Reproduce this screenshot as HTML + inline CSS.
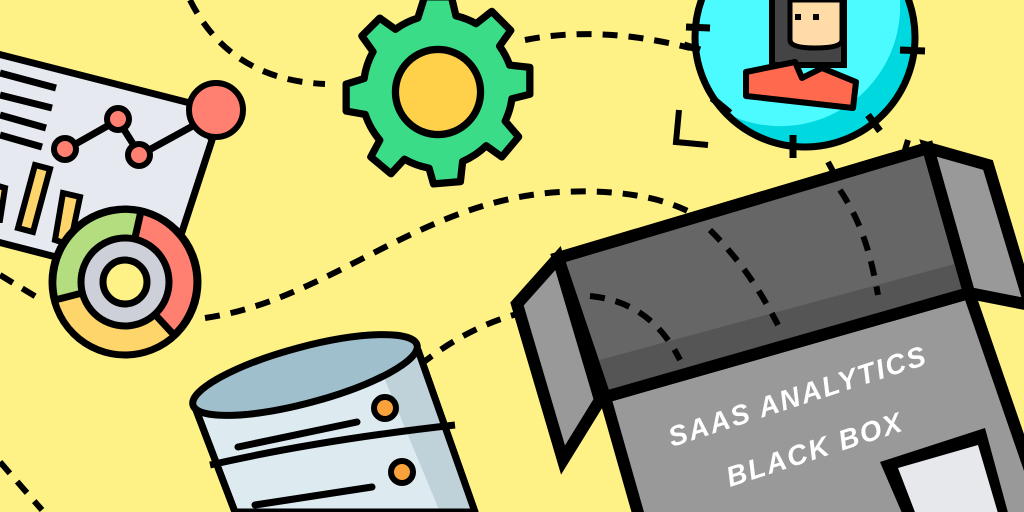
<!DOCTYPE html>
<html><head><meta charset="utf-8"><style>
html,body{margin:0;padding:0;width:1024px;height:512px;overflow:hidden;background:#FEF286}
svg{display:block}
</style></head><body>
<svg width="1024" height="512" viewBox="0 0 1024 512" xmlns="http://www.w3.org/2000/svg">
<rect width="1024" height="512" fill="#FEF286"/>
<g fill="none" stroke="#000" stroke-width="6" stroke-dasharray="15 11">
 <path d="M190,0 Q230,80 325,84"/>
 <path d="M525,40 Q600,25 690,48"/>
 <path d="M0,275 L38,298"/>
 <path d="M205,318 C330,300 420,200 560,192 C640,188 690,205 715,230 C740,260 760,290 780,330"/>
 <path d="M420,365 Q470,325 525,312 C600,295 655,320 680,360"/>
 <path d="M0,462 L42,510"/>
 <path d="M828,162 C860,220 870,250 878,295"/>
 <path d="M908,140 L905,150"/>
</g>
<path d="M679,110 L676,142 L708,145" fill="none" stroke="#000" stroke-width="6"/>

<g stroke="#000" stroke-width="7" stroke-linejoin="round">
 <path d="M-10,52 L190,103 L212,140 L182,232 L140,290 L60,258 L-10,240 Z" fill="#E6E9EF"/>
</g>
<g stroke="#000" stroke-width="7">
 <line x1="0" y1="73" x2="56" y2="88"/><line x1="0" y1="95" x2="52" y2="108"/>
 <line x1="0" y1="115" x2="46" y2="128"/><line x1="0" y1="135" x2="42" y2="147"/>
 <path d="M65,150 L118,120 L140,155 L200,122" fill="none"/>
</g>
<g fill="#FF8070" stroke="#000" stroke-width="6">
 <circle cx="65" cy="149" r="11"/><circle cx="118" cy="119" r="11"/><circle cx="139" cy="155" r="11"/>
 <circle cx="216" cy="110" r="27"/>
</g>
<g fill="#FDD56A" stroke="#000" stroke-width="6">
 <polygon points="35,165 50,169 33,232 18,228"/>
 <polygon points="63,193 80,197 70,245 55,240"/>
 <polygon points="-5,185 5,188 0,220 -5,220"/>
</g>
<g stroke="#000" stroke-width="7">
 <circle cx="125" cy="282" r="73" fill="#FDD56A"/>
 <path d="M125,282 L141,211 A73,73 0 0 1 174,335 Z" fill="#FF8070"/>
 <path d="M125,282 L141,211 A73,73 0 0 0 55,300 Z" fill="#B3DD7E"/>
 <circle cx="125" cy="282" r="44" fill="#CDD0D8"/>
 <circle cx="125" cy="282" r="22" fill="#FEF286"/>
</g>

<g transform="translate(438,92) scale(1.12)" stroke="#000" stroke-width="6.5" stroke-linejoin="round">
 <path fill="#3BDC88" d="
 M-12,-85 L12,-85 L16,-68 A70,70 0 0 1 34,-61 L48,-72 L65,-55 L55,-41 A70,70 0 0 1 64,-24 L82,-22 L82,2 L66,6 A70,70 0 0 1 60,26 L72,40 L57,58 L43,48 A70,70 0 0 1 22,62 L20,80 L-4,82 L-8,68 A70,70 0 0 1 -30,60 L-42,73 L-60,58 L-52,43 A70,70 0 0 1 -65,20 L-82,17 L-82,-7 L-66,-12 A70,70 0 0 1 -58,-36 L-68,-50 L-52,-66 L-38,-56 A70,70 0 0 1 -18,-66 Z"/>
 <circle r="38" fill="#FFD04A"/>
</g>

<g>
 <circle cx="805" cy="37" r="110" fill="#00D8E0"/>
 <path d="M805,-73 A110,110 0 0 0 720,110 A120,120 0 0 0 900,0 A110,110 0 0 0 805,-73Z" fill="#4BFBFF"/>
 <circle cx="805" cy="37" r="110" fill="none" stroke="#000" stroke-width="7"/>
 <g stroke="#000" stroke-width="7">
  <line x1="686" y1="27" x2="710" y2="28"/><line x1="684" y1="45" x2="700" y2="50"/>
  <line x1="900" y1="50" x2="925" y2="51"/><line x1="712" y1="98" x2="730" y2="113"/>
  <line x1="793" y1="135" x2="793" y2="158"/><line x1="868" y1="115" x2="880" y2="131"/>
 </g>
 <rect x="772" y="-10" width="72" height="75" fill="#444" stroke="#000" stroke-width="6"/>
 <path d="M790,0 L842,0 L842,40 Q842,48 815,48 Q790,48 790,40Z" fill="#FFDBA8" stroke="#000" stroke-width="5"/>
 <rect x="795" y="14" width="6" height="6" fill="#000"/><rect x="813" y="14" width="6" height="6" fill="#000"/>
 <path d="M746,72 L795,62 L802,78 L822,68 L856,82 L853,108 L746,96 Z" fill="#FF6A4F" stroke="#000" stroke-width="6" stroke-linejoin="round"/>
</g>

<g stroke="#000" stroke-width="7" stroke-linejoin="round">
 <path d="M193,402 L235,512 L475,512 L418,350 Z" fill="#DDEAF0"/>
 <path d="M385,380 L418,350 L475,512 L440,512 Z" fill="#BFD2DA" stroke="none"/>
 <path d="M193,402 L235,512 L475,512 L418,350" fill="none"/>
 <ellipse cx="305" cy="375" rx="116" ry="28" transform="rotate(-15 305 375)" fill="#9FBFCC"/>
 <path d="M210,465 Q320,440 455,425" fill="none"/>
 <line x1="238" y1="447" x2="357" y2="422" stroke-linecap="round"/>
 <line x1="255" y1="505" x2="372" y2="487" stroke-linecap="round"/>
 <circle cx="385" cy="408" r="11" fill="#F9A23C" stroke-width="6"/>
 <circle cx="402" cy="472" r="11" fill="#F9A23C" stroke-width="6"/>
</g>

<g stroke="#000" stroke-width="12" stroke-linejoin="miter">
 <polygon points="928,148 988,165 1030,305 969,293" fill="#999"/>
 <polygon points="517,304 558,258 600,400 563,460" fill="#999"/>
 <polygon points="605,397 969,293 1030,470 1030,520 640,520" fill="#999"/>
 <polygon points="558,258 928,148 969,293 605,397" fill="#666"/>
</g>
<polygon points="592,362 962,262 969,290 605,394" fill="#555"/>
<polygon points="558,258 928,148 969,293 605,397" fill="none" stroke="#000" stroke-width="12"/>
<g fill="none" stroke="#000" stroke-width="6" stroke-dasharray="15 11">
 <path d="M590,296 C630,300 660,320 680,360"/>
 <path d="M710,230 C740,260 760,290 778,325"/>
 <path d="M840,190 C860,220 870,250 878,295"/>
</g>
<polygon points="880,462 985,428 1010,520 905,520" fill="#000"/>
<polygon points="898,468 978,445 1000,520 918,520" fill="#E6E8EC"/>
<g fill="#fff" font-family="Liberation Sans, sans-serif" font-weight="bold" font-style="italic" font-size="28" letter-spacing="2">
 <text transform="translate(672,447) rotate(-18)">SAAS ANALYTICS</text>
 <text transform="translate(730,487) rotate(-18)">BLACK BOX</text>
</g>
</svg>
</body></html>
